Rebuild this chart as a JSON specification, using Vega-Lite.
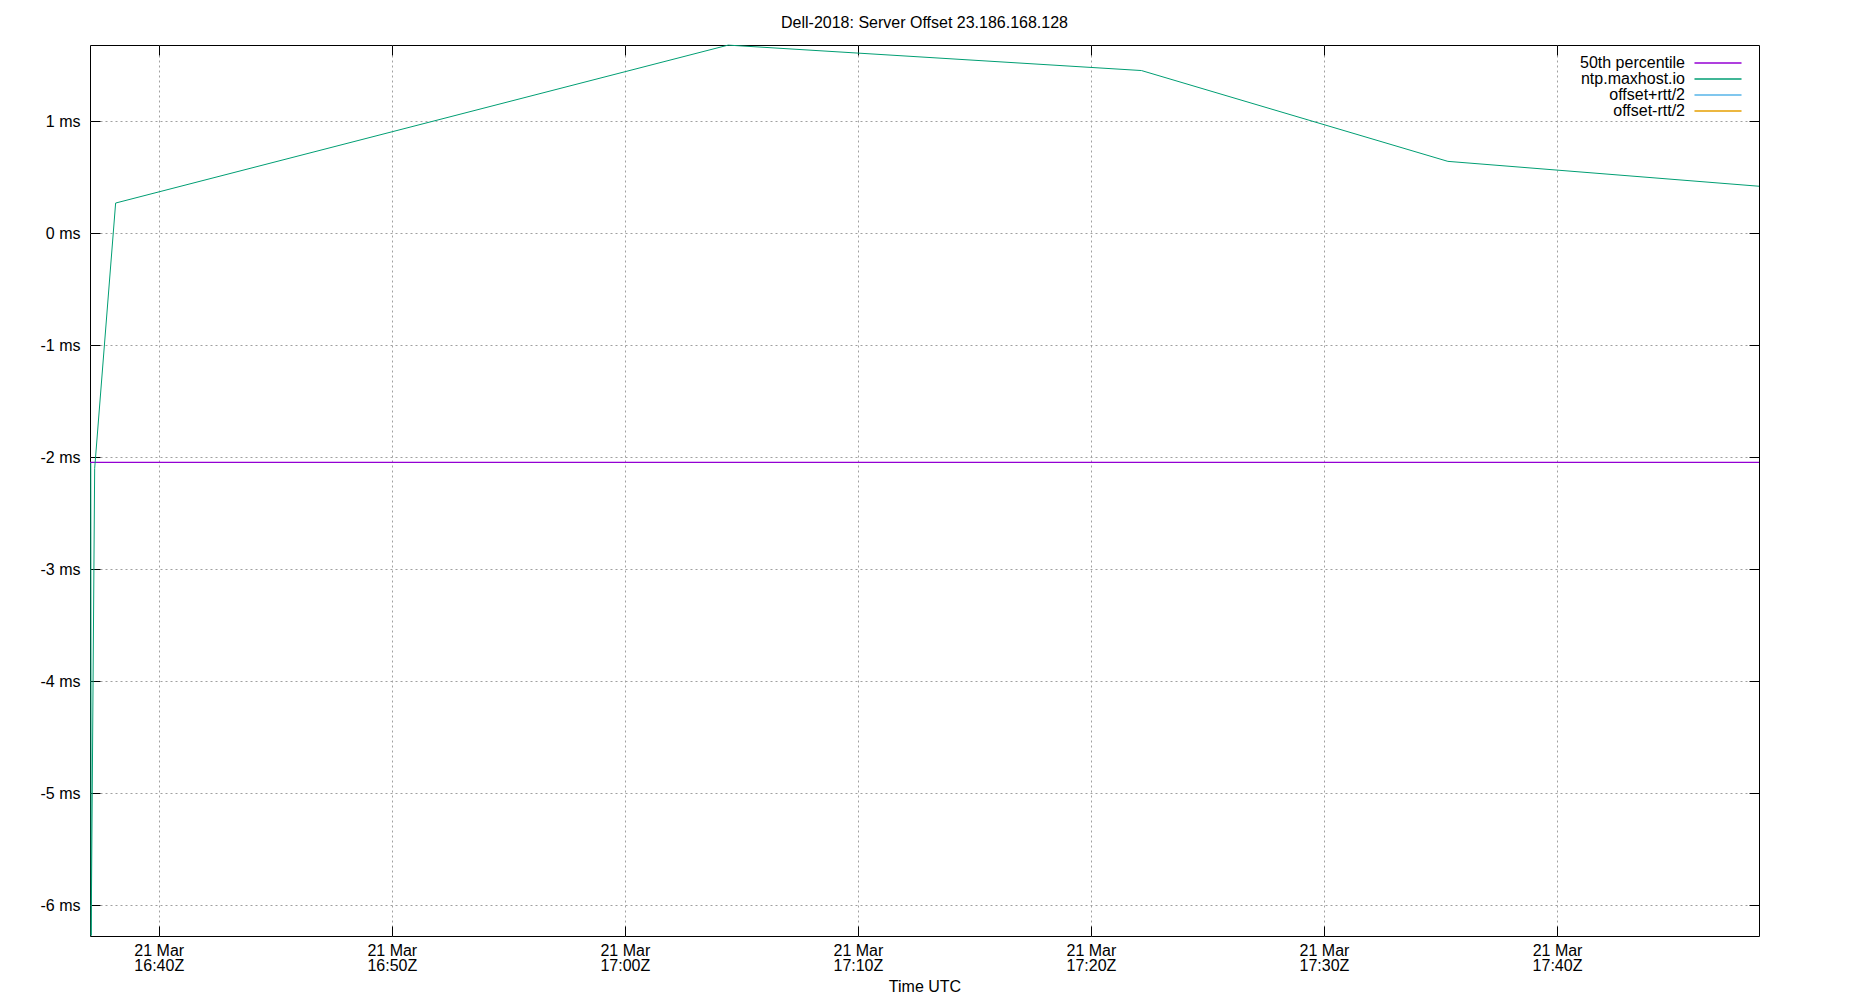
{
  "$schema": "https://vega.github.io/schema/vega-lite/v6.json",
  "width": 1669,
  "height": 891,
  "autosize": {"type": "none"},
  "padding": {"left": 90, "top": 45, "right": 91, "bottom": 64},
  "background": "white",
  "title": {"text": "Dell-2018: Server Offset 23.186.168.128", "font": "Liberation Sans", "fontSize": 16, "fontWeight": "normal", "color": "black", "offset": 12, "anchor": "middle"},
  "config": {
    "view": {"stroke": "black", "strokeWidth": 1},
    "axis": {"labelFont": "Liberation Sans", "labelFontSize": 16, "labelColor": "black", "titleFont": "Liberation Sans", "titleFontSize": 16, "titleFontWeight": "normal", "titleColor": "black", "domain": false, "tickColor": "black", "tickSize": -10, "gridColor": "#a0a0a0", "gridDash": [2, 3], "gridWidth": 1},
    "legend": {"labelFont": "Liberation Sans", "labelFontSize": 16, "labelColor": "black"}
  },
  "datasets": {
    "ntp": [
      {"time": "2023-03-21T16:37:05Z", "series": "ntp.maxhost.io", "offset": -2.05},
      {"time": "2023-03-21T16:37:06Z", "series": "ntp.maxhost.io", "offset": -6.27},
      {"time": "2023-03-21T16:37:15Z", "series": "ntp.maxhost.io", "offset": -2.1},
      {"time": "2023-03-21T16:38:09Z", "series": "ntp.maxhost.io", "offset": 0.27},
      {"time": "2023-03-21T17:04:26Z", "series": "ntp.maxhost.io", "offset": 1.68},
      {"time": "2023-03-21T17:22:10Z", "series": "ntp.maxhost.io", "offset": 1.453},
      {"time": "2023-03-21T17:35:19Z", "series": "ntp.maxhost.io", "offset": 0.642},
      {"time": "2023-03-21T17:48:40Z", "series": "ntp.maxhost.io", "offset": 0.42}
    ],
    "median": [{"series": "50th percentile", "offset": -2.045}]
  },
  "layer": [
    {
      "data": {"name": "median"},
      "mark": {"type": "rule", "strokeWidth": 1.2},
      "encoding": {
        "y": {"field": "offset", "type": "quantitative", "axis": null, "scale": {"domain": [-6.274, 1.681], "nice": false, "zero": false}},
        "color": {"field": "series", "type": "nominal"}
      }
    },
    {
      "data": {"name": "ntp"},
      "mark": {"type": "line", "strokeWidth": 1},
      "encoding": {
        "x": {"field": "time", "type": "temporal", "scale": {"type": "utc", "domain": [{"year": 2023, "month": 3, "date": 21, "hours": 16, "minutes": 37, "seconds": 3, "utc": true}, {"year": 2023, "month": 3, "date": 21, "hours": 17, "minutes": 48, "seconds": 40, "utc": true}], "nice": false},
          "axis": {"title": "Time UTC", "values": [
            {"year": 2023, "month": 3, "date": 21, "hours": 16, "minutes": 40, "utc": true},
            {"year": 2023, "month": 3, "date": 21, "hours": 16, "minutes": 50, "utc": true},
            {"year": 2023, "month": 3, "date": 21, "hours": 17, "minutes": 0, "utc": true},
            {"year": 2023, "month": 3, "date": 21, "hours": 17, "minutes": 10, "utc": true},
            {"year": 2023, "month": 3, "date": 21, "hours": 17, "minutes": 20, "utc": true},
            {"year": 2023, "month": 3, "date": 21, "hours": 17, "minutes": 30, "utc": true},
            {"year": 2023, "month": 3, "date": 21, "hours": 17, "minutes": 40, "utc": true}],
            "labelExpr": "[utcFormat(datum.value, '%d %b'), utcFormat(datum.value, '%H:%MZ')]",
            "labelLineHeight": 15, "labelPadding": 16, "titlePadding": 5, "grid": true}},
        "y": {"field": "offset", "type": "quantitative", "scale": {"domain": [-6.274, 1.681], "nice": false, "zero": false},
          "axis": {"title": null, "values": [-6, -5, -4, -3, -2, -1, 0, 1], "labelExpr": "datum.value + ' ms'", "labelPadding": 20, "grid": true}},
        "color": {"field": "series", "type": "nominal",
          "scale": {"domain": ["50th percentile", "ntp.maxhost.io", "offset+rtt/2", "offset-rtt/2"], "range": ["#9400d3", "#009e73", "#56b4e9", "#e69f00"]},
          "legend": {"title": null, "orient": "none", "legendX": 1595, "legendY": 10, "symbolType": "M-3.92,0H3.92", "symbolSize": 144, "symbolStrokeWidth": 1.5, "rowPadding": -2, "padding": 0,
            "encode": {"labels": {"update": {"x": {"value": 0}, "align": {"value": "right"}}}, "symbols": {"update": {"x": {"value": 33}, "fill": {"value": "transparent"}}}}}}
      }
    },
    {
      "data": {"name": "ntp"},
      "mark": {"type": "line", "strokeOpacity": 0},
      "encoding": {
        "x": {"field": "time", "type": "temporal", "axis": {"orient": "top", "labels": false, "title": null, "grid": false, "values": [
            {"year": 2023, "month": 3, "date": 21, "hours": 16, "minutes": 40, "utc": true},
            {"year": 2023, "month": 3, "date": 21, "hours": 16, "minutes": 50, "utc": true},
            {"year": 2023, "month": 3, "date": 21, "hours": 17, "minutes": 0, "utc": true},
            {"year": 2023, "month": 3, "date": 21, "hours": 17, "minutes": 10, "utc": true},
            {"year": 2023, "month": 3, "date": 21, "hours": 17, "minutes": 20, "utc": true},
            {"year": 2023, "month": 3, "date": 21, "hours": 17, "minutes": 30, "utc": true},
            {"year": 2023, "month": 3, "date": 21, "hours": 17, "minutes": 40, "utc": true}]}},
        "y": {"field": "offset", "type": "quantitative", "axis": {"orient": "right", "labels": false, "title": null, "grid": false, "values": [-6, -5, -4, -3, -2, -1, 0, 1]}}
      }
    }
  ],
  "resolve": {"axis": {"x": "independent", "y": "independent"}}
}
